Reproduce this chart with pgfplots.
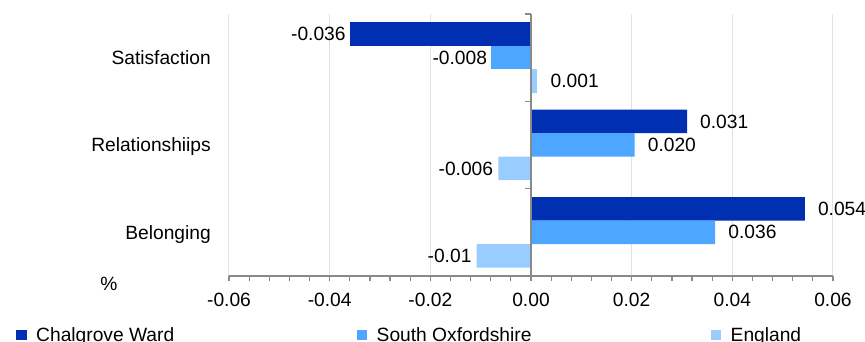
\documentclass[border=0pt]{standalone}
\usepackage{fontspec}
\setmainfont{Liberation Sans}
\usepackage{pgfplots}
\pgfplotsset{compat=1.18}
\definecolor{cDark}{RGB}{0,47,178}
\definecolor{cMid}{RGB}{77,166,255}
\definecolor{cLight}{RGB}{153,204,255}
\definecolor{gridgray}{RGB}{226,226,226}
\definecolor{axisgray}{RGB}{137,137,137}
\newcommand{\chartfont}{\fontsize{19.2}{23}\selectfont}
\begin{document}
\begin{tikzpicture}[font=\chartfont]
\useasboundingbox (-229pt,-66pt) rectangle (636pt,276pt);
\begin{axis}[
  at={(0pt,0pt)}, anchor=south west,
  scale only axis, width=604pt, height=262pt,
  xbar, bar width=23.5pt,
  xmin=-0.06, xmax=0.06, ymin=-0.5, ymax=2.5,
  xtick={-0.06,-0.04,-0.02,0,0.02,0.04,0.06},
  scaled x ticks=false,
  minor x tick num=4,
  xmajorgrids, grid style={draw=gridgray, line width=1pt},
  axis x line*=bottom, axis y line*=left,
  x axis line style={draw=axisgray, line width=1.5pt},
  y axis line style={draw=none},
  tick align=outside, major tick length=5pt, minor tick length=5pt,
  xtick style={draw=axisgray, line width=1.2pt},
  ytick style={draw=none},
  ytick={0,1,2}, yticklabels={Belonging,Relationshiips,Satisfaction},
  /pgf/number format/assume math mode=true,
  x tick label style={/pgf/number format/fixed, /pgf/number format/fixed zerofill, /pgf/number format/precision=2},
  xticklabel style={font=\chartfont, inner sep=0pt, anchor=north, yshift=-12pt},
  yticklabel style={font=\chartfont, inner sep=0pt, anchor=base east, xshift=-13pt, yshift=-6.8pt},
  xlabel={\%}, xlabel style={at={(axis description cs:-0.1987,-0.0305)}, anchor=center, font=\chartfont},
  point meta=explicit symbolic,
  legend columns=3,
  legend style={draw=none, fill=none, at={(axis description cs:-0.3526,-0.2252)}, anchor=west,
    inner sep=0pt, column sep=9.5pt, row sep=0pt, font=\chartfont, nodes={inner sep=0pt}},
  legend image code/.code={\path[#1] (0pt,-5.25pt) rectangle (10.5pt,5.25pt);},
]
% Chalgrove Ward
\addplot[fill=cDark, draw=none, bar shift=23.5pt, nodes near coords,
  every node near coord/.append style={font=\chartfont, inner sep=0pt, anchor=west, xshift=13pt}]
  coordinates {(0.0544,0)[0.054] (0.031,1)[0.031]};
\addlegendentry{\makebox[311pt][l]{Chalgrove Ward}}
\addplot[fill=cDark, draw=none, bar shift=23.5pt, forget plot, nodes near coords,
  every node near coord/.append style={font=\chartfont, inner sep=0pt, anchor=east, xshift=-4pt}]
  coordinates {(-0.036,2)[-0.036]};
% South Oxfordshire
\addplot[fill=cMid, draw=none, bar shift=0pt, nodes near coords,
  every node near coord/.append style={font=\chartfont, inner sep=0pt, anchor=west, xshift=13pt}]
  coordinates {(0.0366,0)[0.036] (0.0206,1)[0.020]};
\addlegendentry{\makebox[324.5pt][l]{South Oxfordshire}}
\addplot[fill=cMid, draw=none, bar shift=0pt, forget plot, nodes near coords,
  every node near coord/.append style={font=\chartfont, inner sep=0pt, anchor=east, xshift=-4pt}]
  coordinates {(-0.0079,2)[-0.008]};
% England
\addplot[fill=cLight, draw=none, bar shift=-23.5pt, nodes near coords,
  every node near coord/.append style={font=\chartfont, inner sep=0pt, anchor=west, xshift=14pt}]
  coordinates {(0.0011,2)[0.001]};
\addlegendentry{England}
\addplot[fill=cLight, draw=none, bar shift=-23.5pt, forget plot, nodes near coords,
  every node near coord/.append style={font=\chartfont, inner sep=0pt, anchor=east, xshift=-5pt}]
  coordinates {(-0.0108,0)[-0.01] (-0.0065,1)[-0.006]};
% zero line with small ticks
\draw[axisgray, line width=1.5pt] (axis cs:0,-0.5) -- (axis cs:0,2.5);
\draw[axisgray, line width=1.2pt] (axis cs:0,-0.5) -- ++(-5.5pt,0pt);
\draw[axisgray, line width=1.2pt] (axis cs:0,0.5) -- ++(-5.5pt,0pt);
\draw[axisgray, line width=1.2pt] (axis cs:0,1.5) -- ++(-5.5pt,0pt);
\draw[axisgray, line width=1.2pt] (axis cs:0,2.5) -- ++(-5.5pt,0pt);
\end{axis}
\end{tikzpicture}
\end{document}
